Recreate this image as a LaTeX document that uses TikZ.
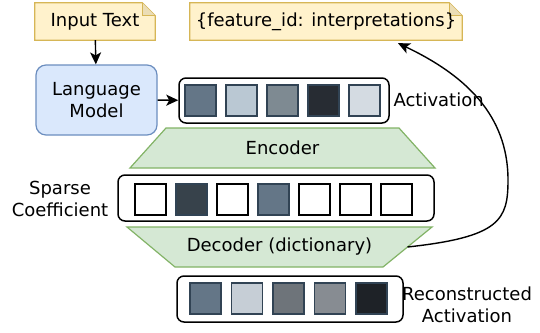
\documentclass[tikz,border=0pt]{standalone}
\usepackage{fontspec}
\setmainfont{DejaVu Sans}
\usepackage{xcolor}
\usepackage{tikz}
\usetikzlibrary{arrows.meta,backgrounds}

\definecolor{notefill}{HTML}{FFF2CC}
\definecolor{notedraw}{HTML}{D6B656}
\definecolor{notefold}{HTML}{EBDDB5}
\definecolor{lmfill}{HTML}{DAE8FC}
\definecolor{lmdraw}{HTML}{6C8EBF}
\definecolor{codefill}{HTML}{D5E8D4}
\definecolor{codedraw}{HTML}{82B366}
\definecolor{celldraw}{HTML}{314354}

\tikzset{
  notetext/.style={inner sep=0pt, minimum height=37pt},
  notebox/.style={draw=notedraw, fill=notefill, line width=1.2pt, line join=miter},
  coder/.style={draw=codedraw, fill=codefill, line width=1.2pt},
  vecbox/.style={draw=black, line width=1.5pt, rounded corners=7pt, inner sep=0pt},
  cell/.style={draw=celldraw, line width=1.2pt, minimum size=31pt, inner sep=0pt},
  arr/.style={line width=1.4pt, -{Stealth[length=12pt,width=11pt,inset=3pt]}}
}

\begin{document}
\begin{tikzpicture}[x=1pt,y=-1pt,font=\fontsize{18}{22}\selectfont]
            \useasboundingbox (0,0) rectangle (540,332);

            % inputs and the interpretation note
            \node[notetext, minimum width=120pt] (inp) at (95,21.5) {Input Text};
            \node[notetext, minimum width=272pt] (fid) at (326,21.5) {\{feature\_id: interpretations\}};
            \begin{scope}[on background layer]
            \foreach \n in {inp,fid} {
              \draw[notebox] (\n.north west) -- ([xshift=-13pt]\n.north east) -- ([yshift=-13pt]\n.north east) -- (\n.south east) -- (\n.south west) -- cycle;
              \draw[notebox, fill=notefold] ([xshift=-13pt]\n.north east) -- ([xshift=-13pt,yshift=-13pt]\n.north east) -- ([yshift=-13pt]\n.north east);
            }
            \end{scope}

            \node[draw=lmdraw, fill=lmfill, line width=1.2pt, rounded corners=10pt, minimum width=121pt, minimum height=70pt, align=center] (lm) at (96.5,100) {Language\\Model};

            % activation vector
            \node[vecbox, minimum width=210pt, minimum height=45pt] (act) at (284,100.5) {};
            \foreach \c [count=\i from 0] in {647687,BAC8D3,7E8A92,272C33,D4DBE2} {
              \definecolor{cellfill}{HTML}{\c}
              \node[cell, fill=cellfill] (act\i) at (200.5+41*\i,100.5) {};
            }
            \node[anchor=west] (actlab) at (390,100) {Activation};

            % encoder / decoder blocks
            \node (enc) at (282.5,148) {Encoder};
            \node (dec) at (279.5,247) {Decoder (dictionary)};
            \coordinate (decout) at (407.5,247);
            \begin{scope}[on background layer]
            \draw[coder] (166,128) -- (399,128) -- (435,168) -- (130,168) -- cycle;
            \draw[coder] (127,227) -- (432,227) -- (383,267) -- (175,267) -- cycle;
            \end{scope}

            % sparse code
            \node[vecbox, minimum width=316pt, minimum height=46pt] (sp) at (276,198) {};
            \foreach \c [count=\i from 0] in {FFFFFF,37424B,FFFFFF,647687,FFFFFF,FFFFFF,FFFFFF} {
              \definecolor{cellfill}{HTML}{\c}
              \node[cell, fill=cellfill] (sp\i) at (150.5+41*\i,199.5) {};
            }
            \foreach \i in {0,2,4,5,6} \node[cell, draw=black] at (sp\i) {};
            \node[align=center] (splab) at (60,199) {Sparse\\Coefficient};

            % reconstruction
            \node[vecbox, minimum width=226pt, minimum height=46pt] (rec) at (290,299) {};
            \foreach \c [count=\i from 0] in {647687,C6CED6,6E747A,878C92,1E2227} {
              \definecolor{cellfill}{HTML}{\c}
              \node[cell, fill=cellfill] (rec\i) at (205.5+41.5*\i,298.5) {};
            }
            \node[align=center] (reclab) at (467,305) {Reconstructed\\Activation};

            \draw[arr] (inp) -- (lm);
            \draw[arr] (lm) -- (act);
            \draw[arr] (decout) .. controls (500,237) and (508,220) .. (508,180) .. controls (508,115) and (465,75) .. ([xshift=72pt,yshift=-3pt]fid.south);

            \end{tikzpicture}
\end{document}
